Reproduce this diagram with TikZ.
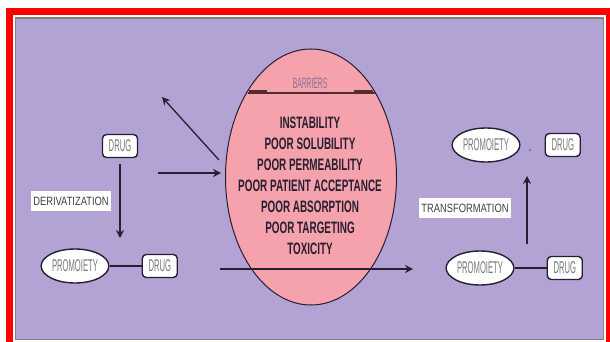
\documentclass[tikz,border=0pt]{standalone}
\usepackage{fontspec}
\setmainfont{Liberation Sans}
\newfontfamily\listfont{Liberation Sans Bold}[FakeStretch=0.6]
\newfontfamily\labfont{Liberation Sans}[FakeStretch=0.78]
\newfontfamily\tagfont{Liberation Sans}[FakeStretch=0.45]
\usetikzlibrary{arrows.meta, positioning, shapes.geometric}
\definecolor{bgpurple}{RGB}{179,163,212}
\definecolor{barpink}{RGB}{246,162,172}
\definecolor{inkdark}{RGB}{38,30,50}
\definecolor{chordbrown}{RGB}{80,45,50}
\definecolor{tagtext}{RGB}{120,120,120}
\definecolor{headtext}{RGB}{130,115,145}
\tikzset{
  tagbox/.style={draw=inkdark, rounded corners=4pt, line width=1.4pt, fill=white, text=tagtext, font=\tagfont\fontsize{17}{19}\selectfont, minimum width=35pt, minimum height=23pt, inner sep=1pt},
  tagoval/.style={ellipse, draw=inkdark, line width=1.4pt, fill=white, text=tagtext, font=\tagfont\fontsize{17}{19}\selectfont, minimum width=64pt, minimum height=34pt, inner sep=1pt},
  steplabel/.style={fill=white, text=black!75, font=\labfont\fontsize{12}{14}\selectfont, inner sep=2pt, minimum height=20pt},
  arrow/.style={-{Stealth[length=8pt, width=8pt]}, line width=1.3pt, draw=inkdark},
  link/.style={line width=1.3pt, draw=inkdark},
  barrier/.style={ellipse, draw=inkdark, line width=1pt, fill=barpink, minimum width=171pt, minimum height=256pt},
  note/.style={align=center, text=inkdark, font=\listfont\fontsize{16.5}{21}\selectfont}
}

\begin{document}
\begin{tikzpicture}[x=1pt, y=-1pt]
    \useasboundingbox (0,0) rectangle (610,342);
    % frame
    \fill[white] (0,0) rectangle (610,342);
    \fill[red] (6,8) rectangle (610,342);
    \fill[white] (13,15) rectangle (606,342);
    \draw[gray, line width=1.5pt, fill=bgpurple] (15.5,18) rectangle (603.5,339.5);

    % barriers
    \node[barrier] (bar) at (311,177) {};
    \draw[chordbrown, line width=1.2pt] (247.5,93) -- (375,93);
    \draw[chordbrown, line width=2.2pt] (249,91.5) -- (267,91.5) (354,91.5) -- (373,91.5);
    \node[text=headtext, font=\tagfont\fontsize{15}{17}\selectfont] (barhead) at (310,83) {BARRIERS};
    \node[note] (barlist) at (310,186) {INSTABILITY\\POOR SOLUBILITY\\POOR PERMEABILITY\\POOR PATIENT ACCEPTANCE\\POOR ABSORPTION\\POOR TARGETING\\TOXICITY};

    % left side
    \node[tagbox] (drugA) at (120,146) {DRUG};
    \node[steplabel] (deriv) at (71,201) {DERIVATIZATION};
    \node[tagoval] (proA) at (75,266) {PROMOIETY};
    \node[tagbox, right=32pt of proA] (drugB) {DRUG};
    \draw[link] (proA) -- (drugB);

    % right side
    \node[tagoval] (proC) at (480,268) {PROMOIETY};
    \node[tagbox, right=32pt of proC] (drugC) {DRUG};
    \draw[link] (proC) -- (drugC);
    \node[steplabel] (trans) at (465,208) {TRANSFORMATION};
    \node[tagoval] (proD) at (486,145) {PROMOIETY};
    \node[tagbox, right=24pt of proD] (drugD) {DRUG};
    \node[circle, fill=tagtext, inner sep=1pt] (dot) at (530,150) {};

    % arrows
    \coordinate (derivEnd) at (120,238);
    \coordinate (feedL) at (158,173);
    \coordinate (feedR) at (221,173);
    \coordinate (backL) at (219,160);
    \coordinate (backR) at (162,97);
    \coordinate (passL) at (220,269);
    \coordinate (passR) at (413,269);
    \coordinate (upL) at (527,244);
    \coordinate (upR) at (527,176);
    \draw[arrow, shorten <=6pt] (drugA) -- (derivEnd);
    \draw[arrow] (feedL) -- (feedR);
    \draw[arrow] (backL) -- (backR);
    \draw[arrow] (passL) -- (passR);
    \draw[arrow] (upL) -- (upR);
\end{tikzpicture}
\end{document}
